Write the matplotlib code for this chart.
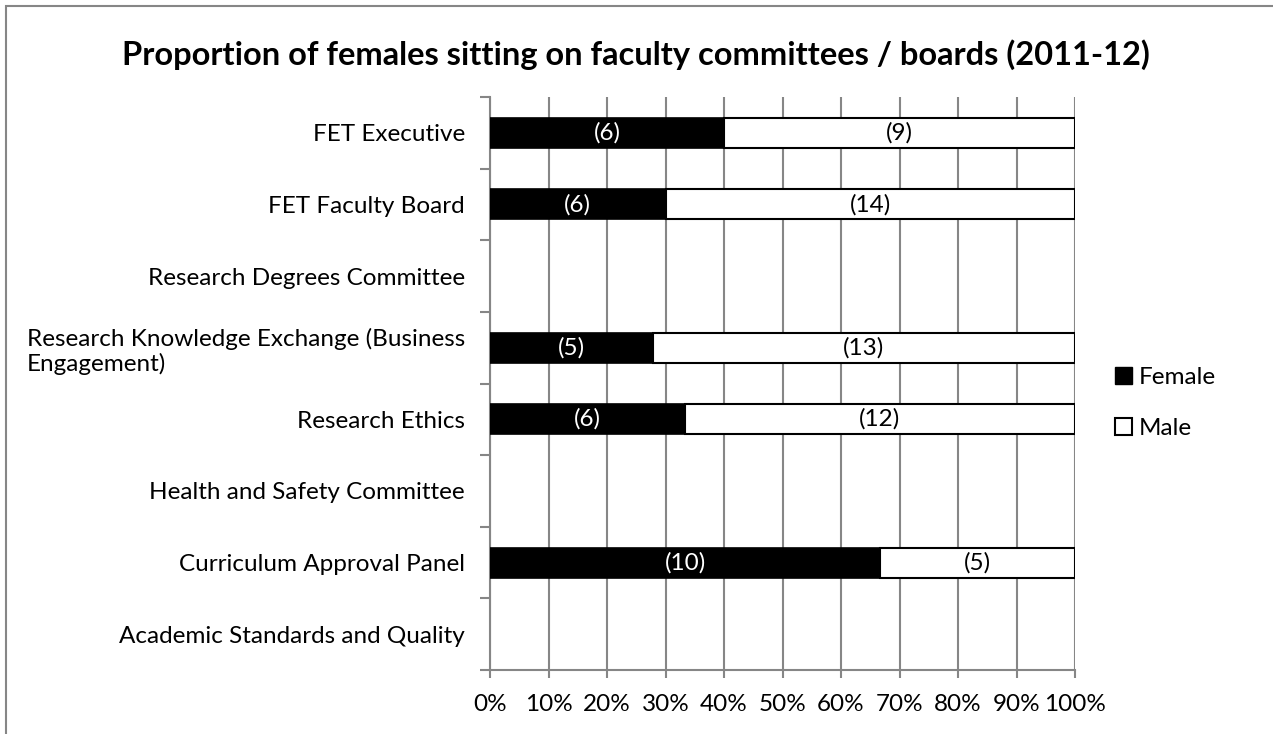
import matplotlib.pyplot as plt
from matplotlib.patches import Patch, Rectangle

plt.rcParams['font.family'] = ['Lato', 'DejaVu Sans']

categories = ['FET Executive',
              'FET Faculty Board',
              'Research Degrees Committee',
              'Research Knowledge Exchange (Business\nEngagement)',
              'Research Ethics',
              'Health and Safety Committee',
              'Curriculum Approval Panel',
              'Academic Standards and Quality']
female = [6, 6, 0, 5, 6, 0, 10, 0]
male = [9, 14, 0, 13, 12, 0, 5, 0]

GRID = '#868686'
FS = 17.5

fig = plt.figure(figsize=(12.73, 7.34), dpi=100)
ax = fig.add_axes([490 / 1273, 1 - 670 / 734, 585 / 1273, 573 / 734])

# frame around the whole chart, as in the source
fig.patches.append(Rectangle((6 / 1273, -0.1), 1.2, 1 - 6 / 734 + 0.1,
                             transform=fig.transFigure, fill=False,
                             edgecolor=GRID, linewidth=1.5))

# committees with no data get no bar
idx = [i for i in range(len(categories)) if female[i] + male[i] > 0]
fpct = [female[i] / (female[i] + male[i]) * 100 for i in idx]
mpct = [male[i] / (female[i] + male[i]) * 100 for i in idx]

h = 0.42
ax.barh(idx, fpct, height=h, color='black', edgecolor='black', linewidth=1.2, zorder=3)
ax.barh(idx, mpct, left=fpct, height=h, color='white', edgecolor='black', linewidth=1.5, zorder=3)

for k, i in enumerate(idx):
    ax.text(fpct[k] / 2, i, '(%d)' % female[i], color='white', ha='center', va='center',
            fontsize=FS, zorder=4)
    ax.text(fpct[k] + mpct[k] / 2, i, '(%d)' % male[i], color='black', ha='center', va='center',
            fontsize=FS, zorder=4)

ax.set_xlim(0, 100)
ax.set_ylim(len(categories) - 0.5, -0.5)
ax.set_xticks(range(0, 101, 10))
ax.set_xticklabels(['%d%%' % v for v in range(0, 101, 10)], fontsize=FS)
ax.set_yticks(range(len(categories)))
ax.set_yticklabels(categories, fontsize=FS)
for lbl in ax.get_yticklabels():
    lbl.set_multialignment('left')
ax.set_yticks([v - 0.5 for v in range(len(categories) + 1)], minor=True)

ax.tick_params(axis='y', which='major', length=0, pad=18)
ax.tick_params(axis='y', which='minor', length=7, width=1.5, color=GRID, direction='out')
ax.tick_params(axis='x', length=6, width=1.5, color=GRID, pad=11)

ax.grid(axis='x', color=GRID, linewidth=1.5, zorder=0)
ax.set_axisbelow(True)
for s in ['top', 'right']:
    ax.spines[s].set_visible(False)
for s in ['left', 'bottom']:
    ax.spines[s].set_color(GRID)
    ax.spines[s].set_linewidth(1.5)

fig.text(636 / 1273, 1 - 55 / 734,
         'Proportion of females sitting on faculty committees / boards (2011-12)',
         ha='center', va='center', fontsize=23.5, fontweight='bold')

handles = [Patch(facecolor='black', edgecolor='black', label='Female'),
           Patch(facecolor='white', edgecolor='black', linewidth=1.5, label='Male')]
fig.legend(handles=handles, loc='center left', bbox_to_anchor=(1093 / 1273, 1 - 403 / 734),
           frameon=False, fontsize=FS, handlelength=0.7, handleheight=0.7,
           handletextpad=0.3, labelspacing=1.2)

fig.savefig('out.png', dpi=100)
